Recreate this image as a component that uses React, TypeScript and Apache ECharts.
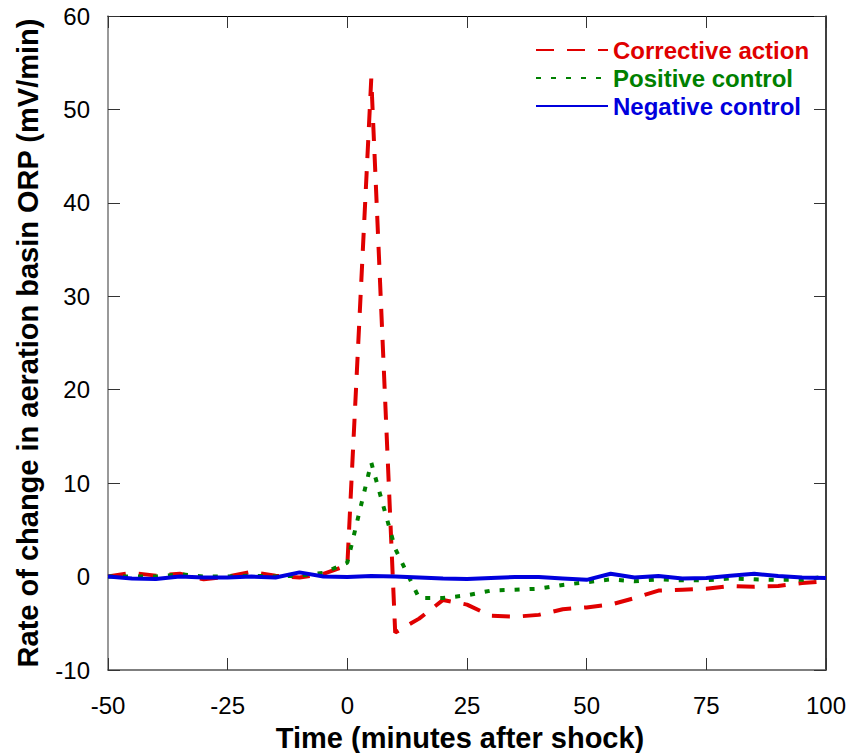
import React, { useEffect, useRef } from "react";
import * as echarts from "echarts";

const times = [-50, -45, -40, -35, -30, -25, -20, -15, -10, -5, 0, 5, 10, 15, 20, 25, 30, 35, 40, 45, 50, 55, 60, 65, 70, 75, 80, 85, 90, 95, 100];
const corrective = [0, 0.4, 0.1, 0.3, -0.3, 0, 0.5, 0.1, -0.1, 0.3, 1.2, 53.3, -6.0, -4.5, -2.5, -3.0, -4.2, -4.3, -4.1, -3.5, -3.3, -3.0, -2.3, -1.5, -1.4, -1.3, -1.0, -1.1, -1.0, -0.7, -0.5];
const positive = [0, 0, 0, 0.25, 0, 0, 0.1, 0, 0.1, 0.4, 1.5, 12.2, 3.0, -2.3, -2.3, -2.0, -1.5, -1.4, -1.3, -0.9, -0.6, -0.3, -0.5, -0.3, -0.4, -0.4, -0.2, -0.3, -0.35, -0.35, 0];
const negative = [0, -0.2, -0.25, 0, -0.1, -0.1, 0, -0.1, 0.45, 0, -0.05, 0.05, 0, -0.1, -0.2, -0.25, -0.15, -0.05, -0.05, -0.2, -0.35, 0.3, -0.1, 0.05, -0.2, -0.15, 0.1, 0.3, 0.05, -0.1, -0.15];

const seriesNames = ["Corrective action", "Positive control", "Negative control"];
const seriesColors = ["#e00000", "#008000", "#0000dd"];

const xTitle = "Time (minutes after shock)";
const yTitle = "Rate of change in aeration basin ORP (mV/min)";

const FONT = "'Liberation Sans', Arial, sans-serif";

export default function App() {
  const ref = useRef<HTMLDivElement>(null);
  useEffect(() => {
    if (!ref.current) return;
    const chart = echarts.init(ref.current, undefined, { renderer: "svg" });
    const pair = (vals: number[]) => times.map((t, i) => [t, vals[i]]);
    const lineStyles = [
      { width: 4, type: [18, 13] as any },
      { width: 4, type: [5, 10] as any },
      { width: 4, type: "solid" as any },
    ];
    const allVals = [corrective, positive, negative];
    chart.setOption({
      animation: false,
      backgroundColor: "#fff",
      grid: { left: 108, right: 22, top: 16, bottom: 83, containLabel: false, outerBoundsMode: "none" } as any,
      legend: {
        orient: "vertical",
        left: 535,
        top: 38,
        padding: 0,
        itemWidth: 72,
        itemHeight: 14,
        itemGap: 4,
        itemStyle: { opacity: 0 },
        textStyle: { fontFamily: FONT, fontSize: 24, fontWeight: "bold", lineHeight: 24 },
        data: seriesNames.map((n, i) => ({ name: n, textStyle: { color: seriesColors[i] } })),
      },
      xAxis: [
        {
          type: "value",
          min: -50,
          max: 100,
          interval: 25,
          position: "bottom",
          axisLine: { show: true, onZero: false, lineStyle: { color: "#555", width: 1.5 } },
          axisTick: { show: true, inside: true, length: 12, lineStyle: { color: "#333", width: 1 } },
          axisLabel: { fontFamily: FONT, fontSize: 24, color: "#000", margin: 23 },
          splitLine: { show: false },
          name: xTitle,
          nameLocation: "middle",
          nameGap: 53,
          nameTextStyle: { fontFamily: FONT, fontSize: 29, fontWeight: "bold", color: "#000", lineHeight: 29, padding: [0, 14, 0, 0] },
        },
        {
          type: "value",
          min: -50,
          max: 100,
          interval: 25,
          position: "top",
          axisLine: { show: true, onZero: false, lineStyle: { color: "#000", width: 1 } },
          axisTick: { show: true, inside: true, length: 12, lineStyle: { color: "#333", width: 1 } },
          axisLabel: { show: false },
          splitLine: { show: false },
        },
      ],
      yAxis: [
        {
          type: "value",
          min: -10,
          max: 60,
          interval: 10,
          position: "left",
          axisLine: { show: true, onZero: false, lineStyle: { color: "#777", width: 1.5 } },
          axisTick: { show: true, inside: true, length: 12, lineStyle: { color: "#333", width: 1 } },
          axisLabel: { fontFamily: FONT, fontSize: 24, color: "#000", margin: 18 },
          splitLine: { show: false },
          name: yTitle,
          nameLocation: "middle",
          nameGap: 66,
          nameTextStyle: { fontFamily: FONT, fontSize: 29, fontWeight: "bold", color: "#000" },
        },
        {
          type: "value",
          min: -10,
          max: 60,
          interval: 10,
          position: "right",
          axisLine: { show: true, onZero: false, lineStyle: { color: "#000", width: 1.5 } },
          axisTick: { show: true, inside: true, length: 12, lineStyle: { color: "#333", width: 1 } },
          axisLabel: { show: false },
          splitLine: { show: false },
        },
      ],
      series: seriesNames.map((n, i) => ({
        name: n,
        type: "line",
        xAxisIndex: 0,
        yAxisIndex: 0,
        data: pair(allVals[i]),
        symbol: "none",
        showSymbol: false,
        color: seriesColors[i],
        lineStyle: { color: seriesColors[i], ...lineStyles[i] },
        z: 2 + i,
      })),
    });
    return () => chart.dispose();
  }, []);
  return <div ref={ref} style={{ width: 848, height: 753, position: "absolute", left: 0, top: 0 }} />;
}
